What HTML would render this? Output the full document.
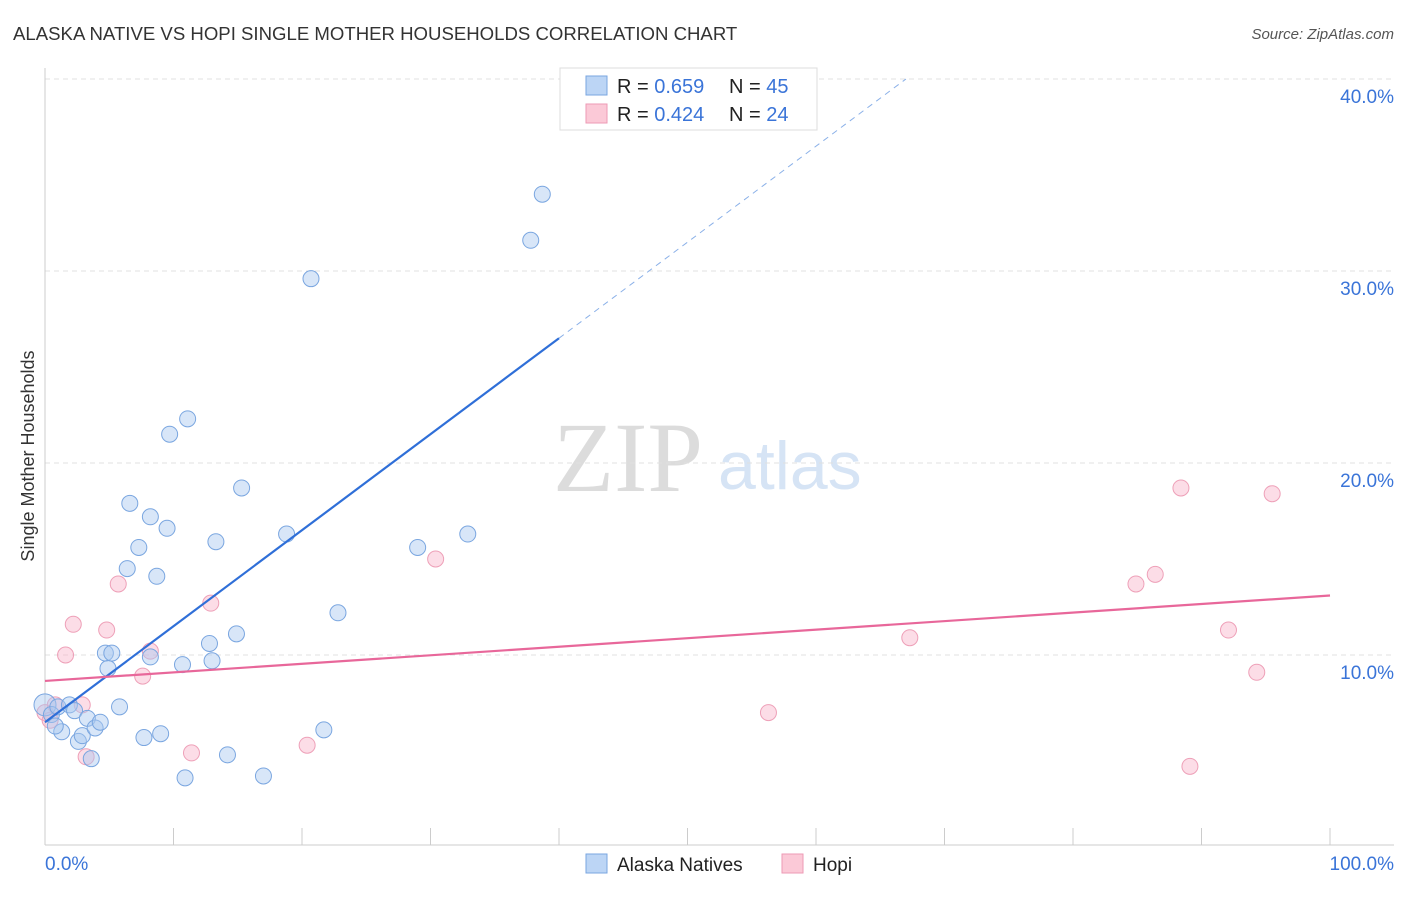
<!DOCTYPE html>
<html><head><meta charset="utf-8"><style>
body{margin:0;background:#fff;font-family:"Liberation Sans",sans-serif;}
svg text{font-family:"Liberation Sans",sans-serif;}
</style></head><body>
<svg id="chart" width="1406" height="892">
<text x="13" y="40" font-size="18.6" fill="#333">ALASKA NATIVE VS HOPI SINGLE MOTHER HOUSEHOLDS CORRELATION CHART</text>
<text x="1394" y="39" font-size="15" fill="#555" text-anchor="end" font-style="italic">Source: ZipAtlas.com</text>
<text x="34" y="456" font-size="18" fill="#333" text-anchor="middle" transform="rotate(-90 34 456)">Single Mother Households</text>
<text x="553" y="491" font-size="100" fill="#dcdcdc" style="font-family:'Liberation Serif',serif">ZIP</text>
<text x="718" y="489" font-size="68" fill="#d6e4f5">atlas</text>
<g id="grid"></g><g id="axes"></g><g id="pts"></g><g id="lines"></g>
<g>
<rect x="560" y="68" width="257" height="62" fill="#fff" stroke="#ddd"/>
<rect x="586" y="76" width="21" height="19" fill="#bcd5f5" stroke="#7aa6e0"/>
<rect x="586" y="104" width="21" height="19" fill="#fbc9d7" stroke="#ee9ab4"/>
<text x="617" y="93" font-size="20" fill="#222">R = <tspan fill="#3a74d8">0.659</tspan></text>
<text x="729" y="93" font-size="20" fill="#222">N = <tspan fill="#3a74d8">45</tspan></text>
<text x="617" y="121" font-size="20" fill="#222">R = <tspan fill="#3a74d8">0.424</tspan></text>
<text x="729" y="121" font-size="20" fill="#222">N = <tspan fill="#3a74d8">24</tspan></text>
</g>
<g>
<rect x="586" y="854" width="21" height="19" fill="#bcd5f5" stroke="#7aa6e0"/>
<text x="617" y="871" font-size="19" fill="#222">Alaska Natives</text>
<rect x="782" y="854" width="21" height="19" fill="#fbc9d7" stroke="#ee9ab4"/>
<text x="813" y="871" font-size="19" fill="#222">Hopi</text>
</g>
</svg>
<script>
const yTicks=[10,20,30,40];
const yTickLabels=["10.0%","20.0%","30.0%","40.0%"];
const xTickLabels=["0.0%","100.0%"];
const alaskaX=[0,0.5,1,1.3,1.9,2.3,2.6,2.9,3.3,3.6,3.9,4.3,4.7,4.9,5.2,5.8,6.4,6.6,7.3,7.7,8.2,8.2,8.7,9.0,9.5,9.7,10.7,10.9,11.1,12.8,13.0,13.3,14.2,14.9,15.3,17.0,18.8,20.7,21.7,22.8,29.0,32.9,37.8,38.7,0.8];
const alaskaY=[7.4,6.9,7.3,6.0,7.4,7.1,5.5,5.8,6.7,4.6,6.2,6.5,10.1,9.3,10.1,7.3,14.5,17.9,15.6,5.7,17.2,9.9,14.1,5.9,16.6,21.5,9.5,3.6,22.3,10.6,9.7,15.9,4.8,11.1,18.7,3.7,16.3,29.6,6.1,12.2,15.6,16.3,31.6,34.0,6.3];
const hopiX=[0,0.4,0.8,1.6,2.2,2.9,3.2,4.8,5.7,7.6,8.2,11.4,12.9,20.4,30.4,56.3,67.3,84.9,86.4,88.4,89.1,92.1,94.3,95.5];
const hopiY=[7.0,6.6,7.4,10.0,11.6,7.4,4.7,11.3,13.7,8.9,10.2,4.9,12.7,5.3,15.0,7.0,10.9,13.7,14.2,18.7,4.2,11.3,9.1,18.4];
const alaskaFit=[6.5,0.5];
const hopiFit=[8.65,0.0445];
const NS="http://www.w3.org/2000/svg";
const X=v=>45+v*12.85, Y=v=>847-v*19.2;
function mk(t,a,p){const e=document.createElementNS(NS,t);for(const k in a)e.setAttribute(k,a[k]);p.appendChild(e);return e;}
const grid=document.getElementById('grid'),axes=document.getElementById('axes');
yTicks.forEach((t,i)=>{
 const l=mk('line',{x1:45,x2:1394,y1:Y(t),y2:Y(t),stroke:'#e0e0e0','stroke-dasharray':'5,4'},grid);
 
 
 const tx=mk('text',{x:1394,y:Y(t)+24,'font-size':19,fill:'#3a74d8','text-anchor':'end'},axes);tx.textContent=yTickLabels[i];
 
 
});
const ax=mk('line',{x1:45,x2:1394,y1:845,y2:845,stroke:'#ccc'},axes);


const ay=mk('line',{x1:45,x2:45,y1:68,y2:845,stroke:'#ccc'},axes);


for(let i=0;i<=10;i++){const t=mk('line',{x1:X(i*10),x2:X(i*10),y1:828,y2:845,stroke:'#ccc'},axes);
 
 }
[[0,'start',45],[100,'end',1394]].forEach((d,i)=>{const t=mk('text',{x:d[2],y:870,'font-size':19,fill:'#3a74d8','text-anchor':d[1]},axes);t.textContent=xTickLabels[i];
 
 });
const pts=document.getElementById('pts');
hopiX.forEach((x,i)=>{const c=mk('circle',{cx:X(x),cy:Y(hopiY[i]),r:8,fill:'rgba(248,180,202,0.45)',stroke:'#eea0b8','stroke-width':1},pts);
 
 });
alaskaX.forEach((x,i)=>{const c=mk('circle',{cx:X(x),cy:Y(alaskaY[i]),r:i==0?11:8,fill:'rgba(168,200,240,0.45)',stroke:'#7aa6e0','stroke-width':1},pts);
 
 });
const lines=document.getElementById('lines');
const f=(p,x)=>p[0]+p[1]*x;
const b1=mk('line',{x1:X(0),y1:Y(f(alaskaFit,0)),x2:X(40),y2:Y(f(alaskaFit,40)),stroke:'#2f6fd8','stroke-width':2.2},lines);


const b2=mk('line',{x1:X(40),y1:Y(f(alaskaFit,40)),x2:X(67),y2:Y(f(alaskaFit,67)),stroke:'#8ab0e8','stroke-width':1,'stroke-dasharray':'6,5'},lines);


const p1=mk('line',{x1:X(0),y1:Y(f(hopiFit,0)),x2:X(100),y2:Y(f(hopiFit,100)),stroke:'#e8679a','stroke-width':2.2},lines);


</script>
</body></html>
